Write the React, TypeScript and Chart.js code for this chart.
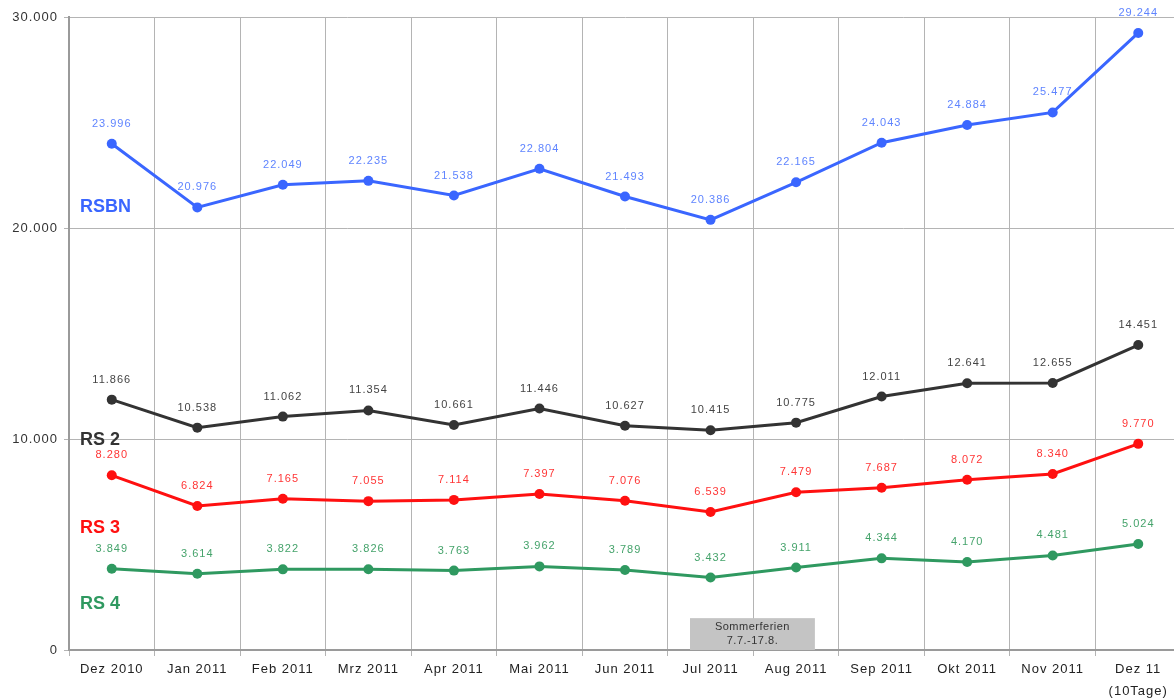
import React, { useEffect, useRef } from "react";
import { Chart, registerables } from "chart.js";

Chart.register(...registerables);

const categories: (string | string[])[] = [
  "Dez 2010", "Jan 2011", "Feb 2011", "Mrz 2011", "Apr 2011", "Mai 2011", "Jun 2011",
  "Jul 2011", "Aug 2011", "Sep 2011", "Okt 2011", "Nov 2011", ["Dez 11", "(10Tage)"],
];

const rsbn = [23996, 20976, 22049, 22235, 21538, 22804, 21493, 20386, 22165, 24043, 24884, 25477, 29244];
const rs2 = [11866, 10538, 11062, 11354, 10661, 11446, 10627, 10415, 10775, 12011, 12641, 12655, 14451];
const rs3 = [8280, 6824, 7165, 7055, 7114, 7397, 7076, 6539, 7479, 7687, 8072, 8340, 9770];
const rs4 = [3849, 3614, 3822, 3826, 3763, 3962, 3789, 3432, 3911, 4344, 4170, 4481, 5024];

const seriesNames = ["RSBN", "RS 2", "RS 3", "RS 4"];
const seriesColors = ["#3a66ff", "#333333", "#ff1010", "#2f9960"];
const labelColors = ["#5f84ff", "#444444", "#ff3535", "#45a36b"];
// y-value positions of the series name annotations
const seriesNameY = [21000, 9950, 5780, 2180];

const yTicks = [0, 10000, 20000, 30000];

// summer holiday box (category positions) and text
const holidayRange = [6.76, 8.22];
const holidayTop = 1510;
const holidayText = ["Sommerferien", "7.7.-17.8."];

function fmt(v: number): string {
  const s = Math.round(v).toString();
  return s.replace(/\B(?=(\d{3})+(?!\d))/g, ".");
}

const FONT = "'Liberation Sans', Arial, sans-serif";

const overlayPlugin = {
  id: "overlay",
  beforeLayout(chart: any) {
    chart.ctx.letterSpacing = "1px";
  },
  beforeDraw(chart: any) {
    chart.ctx.letterSpacing = "1px";
  },
  beforeDatasetsDraw(chart: any) {
    const ctx = chart.ctx;
    const x = chart.scales.x;
    const y = chart.scales.y;
    const x0 = x.getPixelForValue(holidayRange[0]);
    const x1 = x.getPixelForValue(holidayRange[1]);
    const yTop = y.getPixelForValue(holidayTop);
    const yBot = y.getPixelForValue(0);
    ctx.save();
    ctx.fillStyle = "#c4c4c4";
    ctx.fillRect(x0, yTop, x1 - x0, yBot - yTop);
    ctx.fillStyle = "#333";
    ctx.font = `11px ${FONT}`;
    ctx.letterSpacing = "0.5px";
    ctx.textAlign = "center";
    ctx.textBaseline = "middle";
    const cx = (x0 + x1) / 2;
    ctx.fillText(holidayText[0], cx, yTop + 8.5);
    ctx.fillText(holidayText[1], cx, yTop + 23);
    ctx.restore();
  },
  afterDatasetsDraw(chart: any) {
    const ctx = chart.ctx;
    const y = chart.scales.y;
    ctx.save();
    ctx.textAlign = "center";
    ctx.textBaseline = "middle";
    ctx.letterSpacing = "1px";
    chart.data.datasets.forEach((ds: any, i: number) => {
      const meta = chart.getDatasetMeta(i);
      ctx.font = `11px ${FONT}`;
      ctx.fillStyle = labelColors[i];
      meta.data.forEach((pt: any, j: number) => {
        ctx.fillText(fmt(ds.data[j]), pt.x, pt.y - 20);
      });
    });
    ctx.textAlign = "left";
    ctx.letterSpacing = "0px";
    seriesNames.forEach((name, i) => {
      ctx.font = `bold 18px ${FONT}`;
      ctx.fillStyle = seriesColors[i];
      ctx.fillText(name, 80, y.getPixelForValue(seriesNameY[i]));
    });
    ctx.restore();
  },
};

export default function App() {
  const ref = useRef<HTMLCanvasElement | null>(null);

  useEffect(() => {
    if (!ref.current) return;
    const data = [rsbn, rs2, rs3, rs4];
    const chart = new Chart(ref.current, {
      type: "line",
      data: {
        labels: categories,
        datasets: data.map((d, i) => ({
          label: seriesNames[i],
          data: d,
          borderColor: seriesColors[i],
          backgroundColor: seriesColors[i],
          borderWidth: 3,
          pointRadius: 5,
          pointBorderWidth: 0,
          pointBackgroundColor: seriesColors[i],
          tension: 0,
        })),
      },
      options: {
        responsive: false,
        animation: false,
        layout: { padding: { top: 17, right: 0, left: 0, bottom: 0 } },
        plugins: { legend: { display: false }, tooltip: { enabled: false } },
        scales: {
          x: {
            offset: true,
            grid: {
              offset: true,
              color: "#b4b4b4",
              lineWidth: 1,
              drawTicks: true,
              tickLength: 6,
            },
            border: { color: "#9a9a9a", width: 2 },
            ticks: {
              color: "#222",
              font: { family: FONT, size: 13, lineHeight: 1.7 },
              maxRotation: 0,
              autoSkip: false,
              padding: 2,
            },
            afterFit(scale: any) {
              scale.height = 49;
            },
          },
          y: {
            min: 0,
            max: 30000,
            afterBuildTicks(scale: any) {
              scale.ticks = yTicks.map((v) => ({ value: v }));
            },
            grid: { color: "#b4b4b4", lineWidth: 1, tickLength: 5 },
            border: { color: "#9a9a9a", width: 2 },
            ticks: {
              color: "#333",
              font: { family: FONT, size: 13 },
              padding: 6,
              callback: (v: any) => fmt(Number(v)),
            },
            afterFit(scale: any) {
              scale.width = 69;
            },
          },
        },
      },
      plugins: [overlayPlugin],
    });
    return () => chart.destroy();
  }, []);

  return (
    <div style={{ position: "fixed", left: 0, top: 0, width: 1174, height: 699, overflow: "hidden", background: "#fff" }}>
      <canvas ref={ref} width={1186} height={699} style={{ width: 1186, height: 699, display: "block" }} />
    </div>
  );
}
